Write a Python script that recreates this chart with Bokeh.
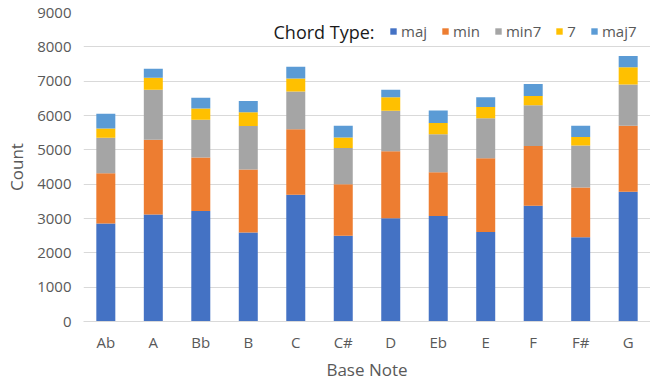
from bokeh.plotting import figure
from bokeh.models import ColumnDataSource, Range1d, FactorRange, SingleIntervalTicker, Label, Legend, LegendItem
from bokeh.embed import file_html
from bokeh.resources import INLINE

notes = ["Ab", "A", "Bb", "B", "C", "C#", "D", "Eb", "E", "F", "F#", "G"]
chord_types = ["maj", "min", "min7", "7", "maj7"]
maj = [2855, 3120, 3220, 2590, 3690, 2495, 3010, 3070, 2610, 3370, 2455, 3780]
mnr = [1465, 2175, 1555, 1835, 1910, 1505, 1950, 1280, 2145, 1740, 1445, 1925]
min7 = [1030, 1455, 1100, 1270, 1100, 1050, 1175, 1105, 1165, 1185, 1225, 1195]
dom7 = [270, 350, 330, 400, 380, 310, 400, 330, 330, 270, 250, 505]
maj7 = [430, 260, 310, 330, 340, 340, 215, 360, 280, 350, 330, 330]
colors = ["#4472C4", "#ED7D31", "#A5A5A5", "#FFC000", "#5B9BD5"]

source = ColumnDataSource(data={"note": notes, "maj": maj, "min": mnr, "min7": min7, "7": dom7, "maj7": maj7})

FONT = "Open Sans"
GREY = "#595959"

p = figure(width=650, height=383, x_range=FactorRange(*notes, range_padding=-0.005),
           y_range=Range1d(0, 9000), output_backend="svg", toolbar_location=None,
           min_border_left=83, min_border_right=0, min_border_top=12, min_border_bottom=62)
p.outline_line_color = None

rs = p.vbar_stack(chord_types, x="note", width=0.4, source=source, color=colors, line_color=None)

legend = Legend(items=[LegendItem(label=c, renderers=[r]) for c, r in zip(chord_types, rs)],
                orientation="horizontal", location=(306, 280))
legend.glyph_width = 8
legend.glyph_height = 8
legend.label_standoff = 4
legend.label_width = 0
legend.spacing = 14
legend.padding = 0
legend.margin = 0
legend.label_height = 20
legend.label_text_font = FONT
legend.label_text_font_size = "15px"
legend.label_text_color = GREY
legend.border_line_color = None
legend.background_fill_color = "white"
p.add_layout(legend, "center")

title_lbl = Label(x=190, y=290, x_units="screen", y_units="screen", text="Chord Type:",
                  text_font=FONT, text_font_size="18px", text_color="#1a1a1a", text_baseline="middle")
p.add_layout(title_lbl)

p.yaxis.ticker = SingleIntervalTicker(interval=1000)
p.ygrid.ticker = SingleIntervalTicker(interval=1000)
p.ygrid.grid_line_color = "#D9D9D9"
p.xgrid.grid_line_color = None

for ax in (p.xaxis, p.yaxis):
    ax.major_tick_line_color = None
    ax.minor_tick_line_color = None
    ax.major_tick_out = 0
    ax.major_tick_in = 0
    ax.major_label_text_font = FONT
    ax.major_label_text_font_size = "15px"
    ax.major_label_text_color = GREY
    ax.axis_label_text_font = FONT
    ax.axis_label_text_font_size = "17px"
    ax.axis_label_text_color = GREY
    ax.axis_label_text_font_style = "normal"

p.yaxis.axis_line_color = None
p.yaxis.major_label_standoff = 8
p.yaxis.axis_label = "Count"
p.yaxis.axis_label_standoff = 6
p.xaxis.axis_line_color = "#D9D9D9"
p.xaxis.major_label_standoff = 10
p.xaxis.axis_label = "Base Note"
p.xaxis.axis_label_standoff = 3

open("out.html", "w").write(file_html(p, INLINE))
